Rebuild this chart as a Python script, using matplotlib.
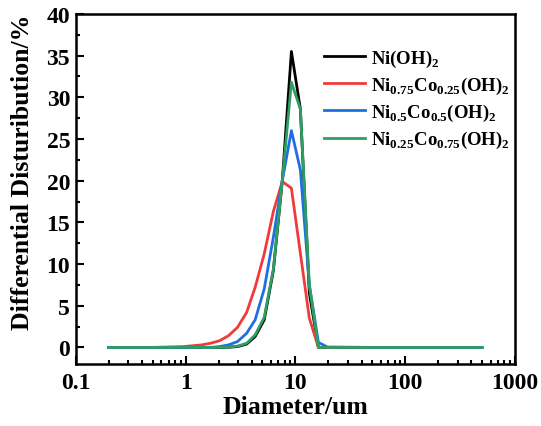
import numpy as np
import matplotlib
matplotlib.use("Agg")
import matplotlib.pyplot as plt
from matplotlib.ticker import MultipleLocator, LogLocator, NullFormatter

plt.rcParams['font.family'] = 'Liberation Serif'
plt.rcParams['font.weight'] = 'bold'
plt.rcParams['mathtext.fontset'] = 'custom'
plt.rcParams['mathtext.rm'] = 'Liberation Serif:bold'
plt.rcParams['mathtext.bf'] = 'Liberation Serif:bold'

# particle size classes (um)
diameter = [0.2, 0.5, 0.96, 1.16, 1.40, 1.69, 2.04, 2.46, 2.97, 3.6, 4.3,
            5.2, 6.3, 7.6, 9.2, 11.1, 13.4, 16.2, 19.5, 50, 100, 500]

ni_oh2 = [0, 0, 0, 0, 0, 0, 0, 0.02, 0.1, 0.4, 1.3,
          3.3, 9.2, 20.0, 35.5, 28.6, 6.5, 0, 0, 0, 0, 0]
ni75_co25 = [0, 0, 0.1, 0.2, 0.3, 0.5, 0.8, 1.4, 2.4, 4.2, 7.2,
             11.2, 16.3, 19.9, 19.1, 11.3, 3.5, 0, 0, 0, 0, 0]
ni50_co50 = [0, 0, 0, 0, 0, 0, 0.1, 0.3, 0.7, 1.7, 3.3,
             7.0, 13.2, 20.0, 26.0, 21.3, 7.5, 0.6, 0.05, 0, 0, 0]
ni25_co75 = [0, 0, 0, 0, 0, 0, 0, 0.03, 0.15, 0.5, 1.5,
             3.6, 9.4, 20.0, 31.8, 28.6, 7.5, 0, 0, 0, 0, 0]

labels = [r'Ni(OH)$_2$',
          r'Ni$_{0.75}$Co$_{0.25}$(OH)$_2$',
          r'Ni$_{0.5}$Co$_{0.5}$(OH)$_2$',
          r'Ni$_{0.25}$Co$_{0.75}$(OH)$_2$']
colors = ['#000000', '#ef3b3b', '#1f6fe0', '#2e9e62']

fig = plt.figure(figsize=(5.41, 4.27), dpi=100)
ax = fig.add_axes([0.140, 0.145, 0.812, 0.820])

for ys, lab, c in zip([ni_oh2, ni75_co25, ni50_co50, ni25_co75], labels, colors):
    ax.plot(diameter, ys, color=c, lw=2.0, label=lab)

ax.set_xscale('log')
ax.set_xlim(0.1, 1000)
ax.set_ylim(-2, 40)
ax.xaxis.set_minor_locator(LogLocator(base=10, subs=np.arange(2, 10), numticks=20))
ax.xaxis.set_minor_formatter(NullFormatter())
ax.set_xticks([0.1, 1, 10, 100, 1000])
ax.set_xticklabels(['0.1', '1', '10', '100', '1000'])
ax.yaxis.set_major_locator(MultipleLocator(5))
ax.yaxis.set_minor_locator(MultipleLocator(2.5))

ax.tick_params(which='both', direction='in', top=False, right=False, width=1.5,
               labelsize=17)
ax.tick_params(which='major', length=6, pad=4)
ax.tick_params(axis='x', which='major', pad=6)
ax.tick_params(which='minor', length=3)
for s in ax.spines.values():
    s.set_linewidth(1.8)

ax.set_xlabel('Diameter/um', fontsize=18.5, fontweight='bold', labelpad=1)
ax.set_ylabel('Differential Disturibution/%', fontsize=18.5, fontweight='bold')
ax.yaxis.set_label_coords(-0.094, 0.55)

leg = ax.legend(loc='upper right', bbox_to_anchor=(1.027, 0.952), frameon=False,
                fontsize=13.5, handlelength=2.2, handletextpad=0.3, labelspacing=0.32)

fig.savefig('out.png', dpi=100)
